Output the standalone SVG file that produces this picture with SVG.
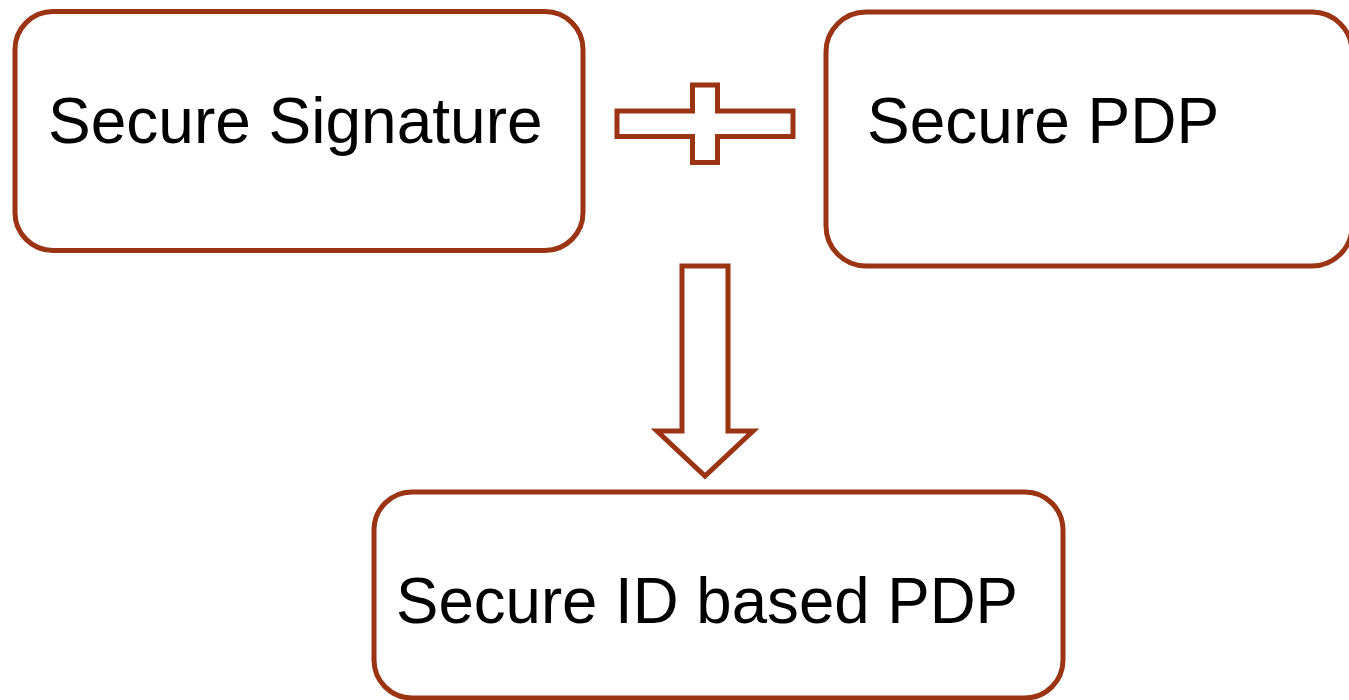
<svg xmlns="http://www.w3.org/2000/svg" width="1349" height="700" viewBox="0 0 1349 700">
  <style>
    .box { fill: #ffffff; stroke: #9a3412; stroke-width: 5; }
    .sym { fill: #ffffff; stroke: #9a3412; stroke-width: 5; stroke-linejoin: miter; }
    .label { font-family: "Liberation Sans", Arial, sans-serif; font-size: 64px; fill: #000000; }
  </style>
  <rect width="1349" height="700" fill="#ffffff"/>

  <g id="secure-signature">
    <rect class="box" x="15" y="11.5" width="568" height="239" rx="38" ry="38"/>
    <text class="label" x="48" y="143">Secure Signature</text>
  </g>

  <g id="secure-pdp">
    <rect class="box" x="826" y="12" width="526" height="254" rx="40" ry="40"/>
    <text class="label" x="867" y="143">Secure PDP</text>
  </g>

  <g id="secure-id-pdp">
    <rect class="box" x="374" y="492" width="689" height="206" rx="38" ry="38"/>
    <text class="label" x="396" y="623" textLength="622" lengthAdjust="spacingAndGlyphs">Secure ID based PDP</text>
  </g>

  <g id="connectors">
    <!-- plus sign joining the two top boxes -->
    <path class="sym" d="M617 111 H692.5 V85 H717.5 V111 H793 V136.5 H717.5 V162.5 H692.5 V136.5 H617 Z"/>
    <!-- block arrow down to the combined box -->
    <path class="sym" d="M682 266 H728 V431 H753 L705 476 L657 431 H682 Z"/>
  </g>
</svg>
